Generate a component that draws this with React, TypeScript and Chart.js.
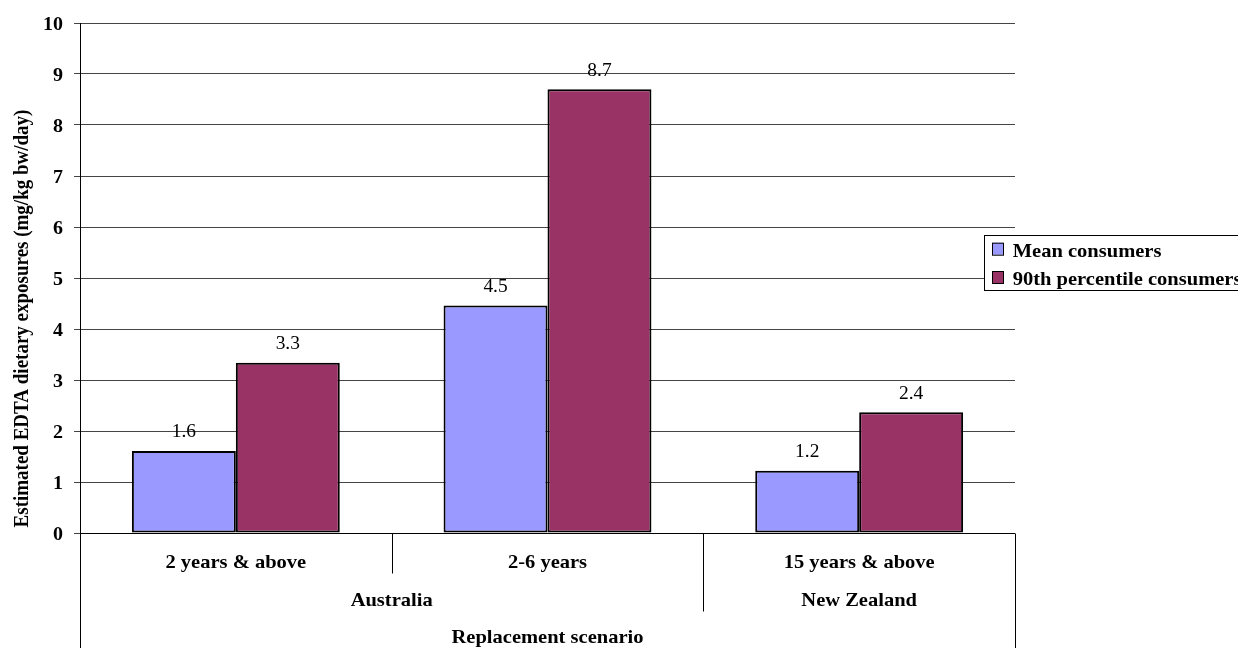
import React, { useEffect, useRef } from "react";
import { Chart, registerables } from "chart.js";

Chart.register(...registerables);

// Age groups on the first category level
const categories = ["2 years & above", "2-6 years", "15 years & above"];
// Second category level: country and how many age groups it spans
const countries = ["Australia", "New Zealand"];
const countrySpans = [2, 1];
// Third category level
const scenarioLabel = "Replacement scenario";

// Estimated EDTA dietary exposures (mg/kg bw/day)
const meanConsumers = [1.61, 4.46, 1.22];
const p90Consumers = [3.34, 8.7, 2.37];

const seriesNames = ["Mean consumers", "90th percentile consumers"];
const seriesColors = ["#9999FF", "#993366"];

const yTickLabels = ["0", "1", "2", "3", "4", "5", "6", "7", "8", "9", "10"];
const yTitle = "Estimated EDTA dietary exposures (mg/kg bw/day)";

const W = 1238;
const H = 648;
const SERIF = '"Liberation Serif", "Times New Roman", serif';
const SX = 1.08; // horizontal text stretch

function drawText(
  ctx: CanvasRenderingContext2D,
  s: string,
  x: number,
  y: number,
  font: string,
  align: CanvasTextAlign
) {
  ctx.save();
  ctx.translate(x, y);
  ctx.scale(SX, 1);
  ctx.font = font;
  ctx.textAlign = align;
  ctx.textBaseline = "alphabetic";
  ctx.fillStyle = "#000";
  ctx.fillText(s, 0, 0);
  ctx.restore();
}

const decorations = {
  id: "decorations",
  afterDraw(chart: any) {
    const ctx: CanvasRenderingContext2D = chart.ctx;
    const area = chart.chartArea;
    const yScale = chart.scales.y;
    const xScale = chart.scales.x;
    const n = categories.length;
    const cw = (area.right - area.left) / n;

    ctx.save();
    // axis and category divider lines
    ctx.strokeStyle = "#000";
    ctx.lineWidth = 1;
    const line = (x1: number, y1: number, x2: number, y2: number) => {
      ctx.beginPath();
      ctx.moveTo(x1, y1);
      ctx.lineTo(x2, y2);
      ctx.stroke();
    };
    const base = Math.round(area.bottom) + 0.5;
    line(area.left, base, area.right, base);
    line(Math.round(area.left) + 0.5, area.top, Math.round(area.left) + 0.5, H);
    line(Math.round(area.right) + 0.5, base, Math.round(area.right) + 0.5, H);
    // divider between age groups inside a country
    const d1 = Math.round(area.left + cw) + 0.5;
    line(d1, base, d1, base + 40);
    // divider between countries
    const d2 = Math.round(area.left + cw * countrySpans[0]) + 0.5;
    line(d2, base, d2, base + 78);

    // y tick labels
    yTickLabels.forEach((t) => {
      const py = yScale.getPixelForValue(Number(t));
      drawText(ctx, t, 63, py + 6.5, `bold 18.5px ${SERIF}`, "right");
    });

    // category labels
    categories.forEach((c, i) => {
      drawText(ctx, c, xScale.getPixelForValue(i), 568, `bold 19px ${SERIF}`, "center");
    });
    let start = 0;
    countries.forEach((c, i) => {
      const x0 = area.left + cw * start;
      const x1 = area.left + cw * (start + countrySpans[i]);
      drawText(ctx, c, (x0 + x1) / 2, 605.5, `bold 19px ${SERIF}`, "center");
      start += countrySpans[i];
    });
    drawText(ctx, scenarioLabel, (area.left + area.right) / 2, 643, `bold 19px ${SERIF}`, "center");

    // value labels above bars
    chart.data.datasets.forEach((ds: any, di: number) => {
      const meta = chart.getDatasetMeta(di);
      meta.data.forEach((bar: any, i: number) => {
        const v = ds.data[i] as number;
        drawText(ctx, v.toFixed(1), bar.x, bar.y - 13.5, `18px ${SERIF}`, "center");
      });
    });

    // y axis title
    ctx.save();
    ctx.translate(28, 318.5);
    ctx.rotate(-Math.PI / 2);
    ctx.scale(1, SX);
    ctx.font = `bold 19px ${SERIF}`;
    ctx.textAlign = "center";
    ctx.textBaseline = "alphabetic";
    ctx.fillStyle = "#000";
    ctx.fillText(yTitle, 0, 0);
    ctx.restore();

    // legend
    ctx.fillStyle = "#fff";
    ctx.fillRect(984.5, 235.5, 300, 55);
    ctx.strokeStyle = "#000";
    ctx.strokeRect(984.5, 235.5, 300, 55);
    const rows = [256.7, 285];
    seriesNames.forEach((name, i) => {
      const sy = rows[i] - 14;
      ctx.fillStyle = seriesColors[i];
      ctx.fillRect(992, sy, 11, 12);
      ctx.strokeStyle = "#000";
      ctx.strokeRect(992.5, sy + 0.5, 11, 12);
      drawText(ctx, name, 1012.7, rows[i], `bold 19px ${SERIF}`, "left");
    });
    ctx.restore();
  },
};

export default function App() {
  const ref = useRef<HTMLCanvasElement>(null);

  useEffect(() => {
    if (!ref.current) return;
    const chart = new Chart(ref.current, {
      type: "bar",
      data: {
        labels: categories,
        datasets: [
          {
            label: seriesNames[0],
            data: meanConsumers,
            backgroundColor: seriesColors[0],
            borderColor: "#000",
            borderWidth: 2,
            borderSkipped: false,
          },
          {
            label: seriesNames[1],
            data: p90Consumers,
            backgroundColor: seriesColors[1],
            borderColor: "#000",
            borderWidth: 2,
            borderSkipped: false,
          },
        ],
      },
      options: {
        responsive: false,
        animation: false,
        layout: { padding: { left: 0, top: 23, right: 223, bottom: 115 } },
        datasets: {
          bar: { categoryPercentage: 0.667, barPercentage: 1 },
        },
        plugins: {
          legend: { display: false },
          tooltip: { enabled: false },
          title: { display: false },
        },
        scales: {
          x: { display: false },
          y: {
            min: 0,
            max: 10,
            ticks: { stepSize: 1, display: false },
            grid: {
              color: "#444",
              lineWidth: 1,
              drawTicks: true,
              tickLength: 6,
            },
            border: { display: true, color: "#000", width: 1 },
            afterFit: (scale: any) => {
              scale.width = 80;
            },
          },
        },
      },
      plugins: [decorations],
    });
    return () => chart.destroy();
  }, []);

  return (
    <div style={{ position: "fixed", left: 0, top: 0, width: W, height: H, background: "#fff" }}>
      <canvas ref={ref} width={W} height={H} style={{ width: W, height: H, display: "block" }} />
    </div>
  );
}
